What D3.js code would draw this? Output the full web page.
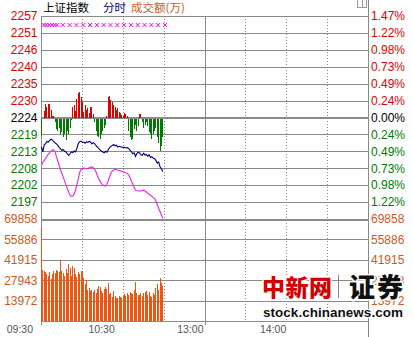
<!DOCTYPE html>
<html>
<head>
<meta charset="utf-8">
<script src="https://cdn.jsdelivr.net/npm/d3@7"></script>
<style>
body { margin: 0; background: #fff; }
svg { display: block; font-family: Arial, "Liberation Sans", sans-serif; }
</style>
</head>
<body>
<div id="chart"></div>
<script>
//Datos
const preClose = 2224.3;
const pctRange = 0.0147;
const priceLabels = ['2257', '2251', '2246', '2240', '2235', '2230', '2224', '2219', '2213', '2208', '2202', '2197'];
const pctLabels = ['1.47%', '1.22%', '0.98%', '0.73%', '0.49%', '0.24%', '0.00%', '0.24%', '0.49%', '0.73%', '0.98%', '1.22%'];
const volTicks = [69858, 55886, 41915, 27943, 13972];
const timeLabels = ['09:30', '10:30', '13:00', '14:00'];
const timeLabelMinutes = [0, 60, 120, 180];
const gridMinutes = [30, 60, 90, 150, 180, 210];

//Indice (linea azul), por minuto desde 09:30
const indexLine = [
    2214.8, 2213.2, 2215.5, 2215.9, 2216.6, 2216.4, 2216.9, 2217.3, 2217.1, 2216.5,
    2216.1, 2215.8, 2215.3, 2214.6, 2214.2, 2213.7, 2214.0, 2213.4, 2213.2, 2212.6,
    2212.1, 2212.7, 2213.2, 2213.0, 2213.5, 2213.2, 2214.4, 2215.9, 2216.5, 2216.7,
    2216.3, 2216.4, 2216.0, 2216.5, 2216.2, 2216.6, 2216.4, 2215.8, 2216.2, 2215.9,
    2215.2, 2214.8, 2214.3, 2213.9, 2213.5, 2213.2, 2212.9, 2213.4, 2213.1, 2213.9,
    2214.6, 2215.0, 2215.3, 2215.6, 2215.2, 2215.4, 2214.8, 2215.0, 2214.9, 2214.8,
    2214.6, 2214.7, 2214.5, 2214.6, 2214.3, 2213.8, 2213.2, 2212.6, 2212.9, 2211.8,
    2212.7, 2213.1, 2212.9, 2212.3, 2212.1, 2212.8, 2212.2, 2212.4, 2211.8, 2212.3,
    2211.4, 2211.7, 2211.2, 2211.1, 2210.4, 2209.6, 2210.0, 2208.4, 2207.8, 2206.8
];

//Linea magenta
const avgLine = [
    2208.9, 2209.8, 2210.5, 2211.1, 2211.8, 2212.5, 2212.9, 2213.5, 2213.9, 2213.8,
    2213.2, 2211.6, 2210.2, 2208.9, 2207.4, 2206.2, 2205.0, 2203.8, 2202.6, 2201.4,
    2200.2, 2199.2, 2198.9, 2199.1, 2199.7, 2201.0, 2202.7, 2204.6, 2206.6, 2207.5,
    2207.8, 2208.0, 2207.9, 2207.8, 2207.9, 2208.1, 2208.3, 2208.4, 2208.1, 2207.6,
    2206.8, 2205.6, 2204.6, 2203.8, 2203.0, 2202.6, 2202.3, 2202.2, 2202.8, 2203.9,
    2205.2, 2206.4, 2207.1, 2207.4, 2207.6, 2207.5, 2207.3, 2207.2, 2207.1, 2207.0,
    2206.8, 2206.6, 2206.5, 2206.3, 2205.8, 2204.9, 2203.9, 2202.8, 2201.8, 2200.9,
    2200.7, 2200.6, 2200.6, 2200.6, 2200.8, 2200.9, 2200.6, 2200.3, 2199.9, 2199.6,
    2199.3, 2198.9, 2198.5, 2198.2, 2197.4, 2196.2, 2195.0, 2194.0, 2193.0, 2191.8
];

//Barras rojas / verdes alrededor del cierre anterior
const powerBars = [
    -5.4, 0, 2, 4.5, 3.5, 4.5, 4.2, 2.5, 0.6, 0.4,
    -1, -3.5, -4, -3, -5, -4.5, -6, -5, -7, -4,
    -5, -3, -0.5, 3.3, 4, 2, 6, 8, 8.1, 6.5,
    5, 1.8, 4, 2.5, 3, 1.5, 3.3, 3.5, 1, -1,
    -4, -5.5, -6, -6.5, -5, -4, -3, -2, 0.5, 6.5,
    7, 5.5, 5, 4, 3.5, 2.3, 3, 1.7, 1.5, 0.8,
    0.5, 1.3, 1.2, 0.6, -4, -6, -7, -6.5, -3.5, -2,
    -4, -2.5, 1, 1, -1, -3, -2, -1, -2.5, -4.5,
    -5, -6.5, -5, -4, -3, -6, -8, -10.5, -9, -6
];

//Volumen (万)
const volumes = [
    64000, 35000, 34000, 33500, 32000, 30500, 33500, 29000, 32500, 34000,
    33000, 35000, 34500, 33500, 42000, 34000, 33000, 31000, 35500, 33000,
    39000, 36000, 30500, 38000, 36500, 32000, 30000, 33500, 32500, 34500,
    34000, 29500, 25000, 28000, 21000, 22500, 20500, 21000, 20000, 21500,
    19000, 22000, 24000, 23500, 20500, 19500, 22000, 23000, 22000, 26000,
    18500, 19500, 16500, 20500, 17000, 16000, 16000, 17000, 16500, 15500,
    17000, 18500, 17000, 19500, 17500, 20000, 19500, 18500, 21000, 26500,
    19500, 17500, 18000, 19000, 17000, 19500, 20000, 20500, 18000, 20000,
    17000, 16500, 19000, 18000, 22500, 25000, 21000, 29500, 26000, 24000
];

//Marcas x magenta
const markerLevel = 2254.1;
const markerMinutes = [2, 4, 6, 8, 10, 12, 16, 21, 26, 31, 36, 41, 46, 51, 56, 61, 66, 71, 76, 81, 86, 91];

//Colores
const RED = '#e00000', GREEN = '#007a00', ORANGE = '#cc5a1e', GRID = '#8a8a8a';

let W = 413, H = 337;
let mLeft = 41, mRight = 368, mTop = 16, priceBottom = 219, volBottom = 321;

let svg = d3.select('#chart').append('svg')
    .attr('width', W)
    .attr('height', H);

svg.append('rect').attr('width', W).attr('height', H).attr('fill', '#fff');

let x = d3.scaleLinear().domain([0, 240]).range([mLeft, mRight]);
let lo = preClose * (1 - pctRange), hi = preClose * (1 + pctRange);
let y = d3.scaleLinear().domain([lo, hi]).range([priceBottom, mTop]);
let yVol = d3.scaleLinear().domain([0, volTicks[0]]).range([volBottom, priceBottom]);

let priceLevels = d3.range(12).map(function(i) { return hi - i * (hi - lo) / 12; });

//Rejilla horizontal
let grid = svg.append('g').attr('shape-rendering', 'crispEdges');
priceLevels.forEach(function(v, i) {
    grid.append('line')
        .attr('x1', mLeft).attr('x2', mRight)
        .attr('y1', Math.round(y(v)) + 0.5).attr('y2', Math.round(y(v)) + 0.5)
        .attr('stroke', GRID)
        .attr('stroke-width', i == 6 ? 2 : 1);
});
volTicks.forEach(function(v, i) {
    grid.append('line')
        .attr('x1', mLeft).attr('x2', mRight)
        .attr('y1', Math.round(yVol(v)) + 0.5).attr('y2', Math.round(yVol(v)) + 0.5)
        .attr('stroke', GRID)
        .attr('stroke-width', i == 0 ? 2 : 1);
});
grid.append('line')
    .attr('x1', mLeft).attr('x2', mRight)
    .attr('y1', volBottom + 0.5).attr('y2', volBottom + 0.5)
    .attr('stroke', GRID);

//Rejilla vertical punteada
gridMinutes.forEach(function(m) {
    grid.append('line')
        .attr('x1', Math.round(x(m)) + 0.5).attr('x2', Math.round(x(m)) + 0.5)
        .attr('y1', mTop).attr('y2', volBottom)
        .attr('stroke', GRID)
        .attr('stroke-dasharray', '1,2');
});
//Mediodia y bordes
grid.append('line')
    .attr('x1', Math.round(x(120)) + 0.5).attr('x2', Math.round(x(120)) + 0.5)
    .attr('y1', mTop).attr('y2', volBottom + 4)
    .attr('stroke', GRID);
grid.append('line')
    .attr('x1', mLeft + 0.5).attr('x2', mLeft + 0.5)
    .attr('y1', mTop).attr('y2', volBottom + 4)
    .attr('stroke', GRID);
grid.append('line')
    .attr('x1', mRight + 0.5).attr('x2', mRight + 0.5)
    .attr('y1', 0).attr('y2', H)
    .attr('stroke', GRID);

//Boton pequeño arriba a la derecha
svg.append('rect')
    .attr('x', 357.5).attr('y', -1.5).attr('width', 9).attr('height', 9)
    .attr('fill', '#fff').attr('stroke', '#999');
svg.append('line')
    .attr('x1', 362.5).attr('x2', 362.5).attr('y1', 0).attr('y2', 8)
    .attr('stroke', '#999');

//Barras rojas / verdes
svg.append('g')
    .attr('shape-rendering', 'crispEdges')
    .selectAll('rect')
    .data(powerBars)
    .enter()
    .append('rect')
    .attr('x', function(d, i) { return Math.round(x(i)); })
    .attr('width', 1)
    .attr('y', function(d) { return d > 0 ? y(preClose + d) : y(preClose) + 1; })
    .attr('height', function(d) { return Math.abs(y(preClose + d) - y(preClose)); })
    .attr('fill', function(d) { return d > 0 ? RED : GREEN; });

//Lineas
let line = d3.line()
    .x(function(d, i) { return x(i) + 0.5; })
    .y(function(d) { return y(d); });

svg.append('path')
    .datum(avgLine)
    .attr('d', line)
    .attr('fill', 'none')
    .attr('stroke', '#ee22ee')
    .attr('stroke-width', 1.1);

svg.append('path')
    .datum(indexLine)
    .attr('d', line)
    .attr('fill', 'none')
    .attr('stroke', '#000080')
    .attr('stroke-width', 1.1);

//Marcas
svg.append('g')
    .selectAll('path')
    .data(markerMinutes)
    .enter()
    .append('path')
    .attr('transform', function(d) { return 'translate(' + x(d) + ',' + y(markerLevel) + ')'; })
    .attr('d', 'M-2,-2L2,2M-2,2L2,-2')
    .attr('stroke', '#ff00ff')
    .attr('stroke-width', 1);

//Volumen
svg.append('g')
    .attr('shape-rendering', 'crispEdges')
    .selectAll('rect')
    .data(volumes)
    .enter()
    .append('rect')
    .attr('x', function(d, i) { return Math.round(x(i)); })
    .attr('width', 1)
    .attr('y', function(d) { return yVol(d); })
    .attr('height', function(d) { return volBottom - yVol(d); })
    .attr('fill', '#ee5511');

//Etiquetas eje izquierdo / derecho
let labels = svg.append('g').attr('font-size', '12px');
priceLabels.forEach(function(t, i) {
    let col = i < 6 ? RED : (i == 6 ? '#000' : GREEN);
    labels.append('text')
        .attr('x', 37.5).attr('y', y(priceLevels[i]))
        .attr('dy', '0.36em')
        .attr('text-anchor', 'end')
        .attr('fill', col)
        .text(t);
    labels.append('text')
        .attr('x', 371).attr('y', y(priceLevels[i]))
        .attr('dy', '0.36em')
        .attr('fill', col)
        .text(pctLabels[i]);
});
volTicks.forEach(function(v) {
    labels.append('text')
        .attr('x', 37.5).attr('y', yVol(v))
        .attr('dy', '0.36em')
        .attr('text-anchor', 'end')
        .attr('fill', ORANGE)
        .text(v);
    labels.append('text')
        .attr('x', 371).attr('y', yVol(v))
        .attr('dy', '0.36em')
        .attr('fill', ORANGE)
        .text(v);
});

//Etiquetas de tiempo
let timeOffsets = [-8, -8, -1, 0];
timeLabels.forEach(function(t, i) {
    svg.append('text')
        .attr('x', x(timeLabelMinutes[i]) + timeOffsets[i])
        .attr('y', 333)
        .attr('text-anchor', 'end')
        .attr('font-size', '10.5px')
        .attr('fill', '#555')
        .text(t);
});

//Titulo
let title = svg.append('text')
    .attr('y', 11.5)
    .attr('font-family', '"Noto Sans CJK SC", sans-serif')
    .attr('font-size', '11.5px');
title.append('tspan').attr('x', 43).attr('fill', '#000').text('上证指数');
title.append('tspan').attr('x', 103).attr('fill', '#000080').text('分时');
title.append('tspan').attr('x', 131).attr('fill', ORANGE).text('成交额(万)');

//Marca de agua
let wm = svg.append('g');
wm.append('text')
    .attr('x', 262).attr('y', 296)
    .attr('font-family', '"Noto Sans CJK SC", sans-serif')
    .attr('font-weight', 900)
    .attr('font-size', '23px')
    .attr('fill', '#d40000')
    .attr('stroke', '#fff').attr('stroke-width', 3).attr('paint-order', 'stroke')
    .attr('textLength', 70)
    .text('中新网');
wm.append('line')
    .attr('x1', 338.5).attr('x2', 338.5).attr('y1', 275).attr('y2', 298)
    .attr('stroke', '#888').attr('stroke-width', 1);
wm.append('text')
    .attr('x', 349).attr('y', 297)
    .attr('font-family', '"Noto Sans CJK SC", sans-serif')
    .attr('font-weight', 900)
    .attr('font-size', '26px')
    .attr('fill', '#111')
    .attr('stroke', '#fff').attr('stroke-width', 3).attr('paint-order', 'stroke')
    .attr('textLength', 54)
    .text('证券');
wm.append('text')
    .attr('x', 263).attr('y', 317)
    .attr('font-weight', 'bold')
    .attr('font-size', '13.5px')
    .attr('fill', '#111')
    .attr('stroke', '#fff').attr('stroke-width', 2).attr('paint-order', 'stroke')
    .attr('textLength', 140)
    .text('stock.chinanews.com');
</script>
</body>
</html>
